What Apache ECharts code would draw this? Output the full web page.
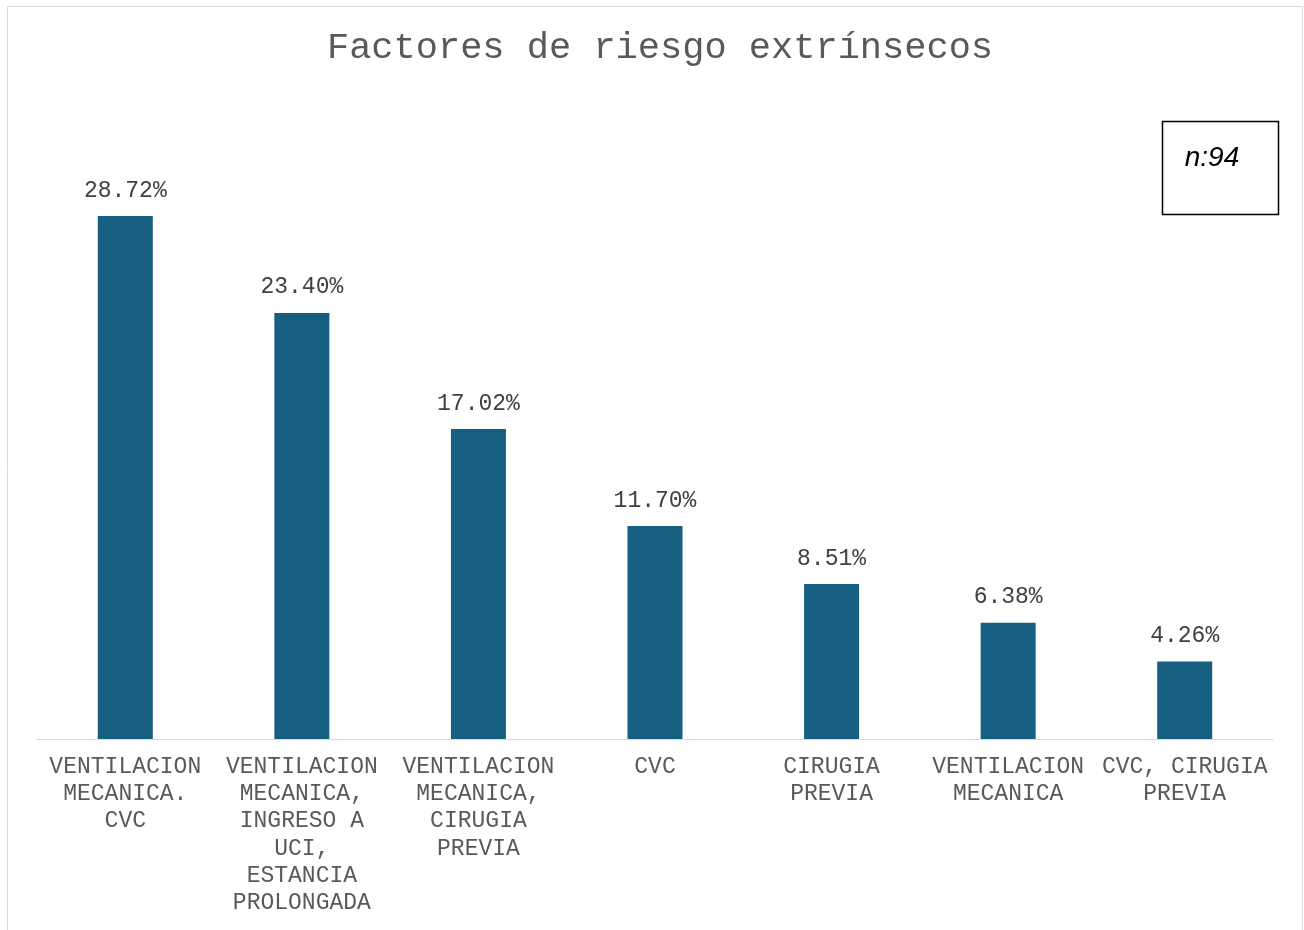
<!DOCTYPE html>
<html>
<head>
<meta charset="utf-8">
<script src="https://cdn.jsdelivr.net/npm/echarts@6/dist/echarts.min.js"></script>
<style>
html,body{margin:0;padding:0;background:#fff;}
#chart{width:1304px;height:930px;}
</style>
</head>
<body>
<div id="chart"></div>
<script>
const titleText = 'Factores de riesgo extrínsecos';
const categories = [
  'VENTILACION\nMECANICA.\nCVC',
  'VENTILACION\nMECANICA,\nINGRESO A\nUCI,\nESTANCIA\nPROLONGADA',
  'VENTILACION\nMECANICA,\nCIRUGIA\nPREVIA',
  'CVC',
  'CIRUGIA\nPREVIA',
  'VENTILACION\nMECANICA',
  'CVC, CIRUGIA\nPREVIA'
];
const values = [28.72, 23.40, 17.02, 11.70, 8.51, 6.38, 4.26];
const sampleNote = 'n:94';

const mono = '"Liberation Mono", "DejaVu Sans Mono", monospace';
const chart = echarts.init(document.getElementById('chart'));
chart.setOption({
  animation: false,
  backgroundColor: '#ffffff',
  title: {
    text: titleText, left: 655, top: 25, textAlign: 'center',
    textStyle: {fontFamily: mono, fontSize: 37, fontWeight: 'normal', color: '#595959'}
  },
  graphic: [
    {type: 'rect', shape: {x: 7.5, y: 6.5, width: 1295, height: 940},
     style: {fill: 'none', stroke: '#d9d9d9', lineWidth: 1}, silent: true, z: -1},
    {type: 'rect', shape: {x: 1162.5, y: 121.5, width: 116, height: 93},
     style: {fill: '#fff', stroke: '#000', lineWidth: 1.5}},
    {type: 'text', x: 1212, y: 158,
     style: {text: sampleNote, font: 'italic 28px "Liberation Sans", Arial, sans-serif',
             fill: '#000', align: 'center', verticalAlign: 'middle'}}
  ],
  grid: {left: 37, right: 31, top: 192.7, bottom: 191, containLabel: false},
  xAxis: {
    type: 'category',
    data: categories,
    axisLine: {show: true, lineStyle: {color: '#d9d9d9', width: 1}},
    axisTick: {show: false},
    axisLabel: {interval: 0, color: '#595959', fontFamily: mono, fontSize: 23,
                lineHeight: 27.3, margin: 14}
  },
  yAxis: {
    type: 'value', min: 0, max: 30, show: false,
    splitLine: {show: false}
  },
  series: [{
    type: 'bar',
    data: values,
    barWidth: 55,
    itemStyle: {color: '#175f80'},
    label: {show: true, position: 'top', distance: 14, color: '#404040',
            fontFamily: mono, fontSize: 23,
            formatter: p => p.value.toFixed(2) + '%'}
  }]
});
</script>
</body>
</html>
